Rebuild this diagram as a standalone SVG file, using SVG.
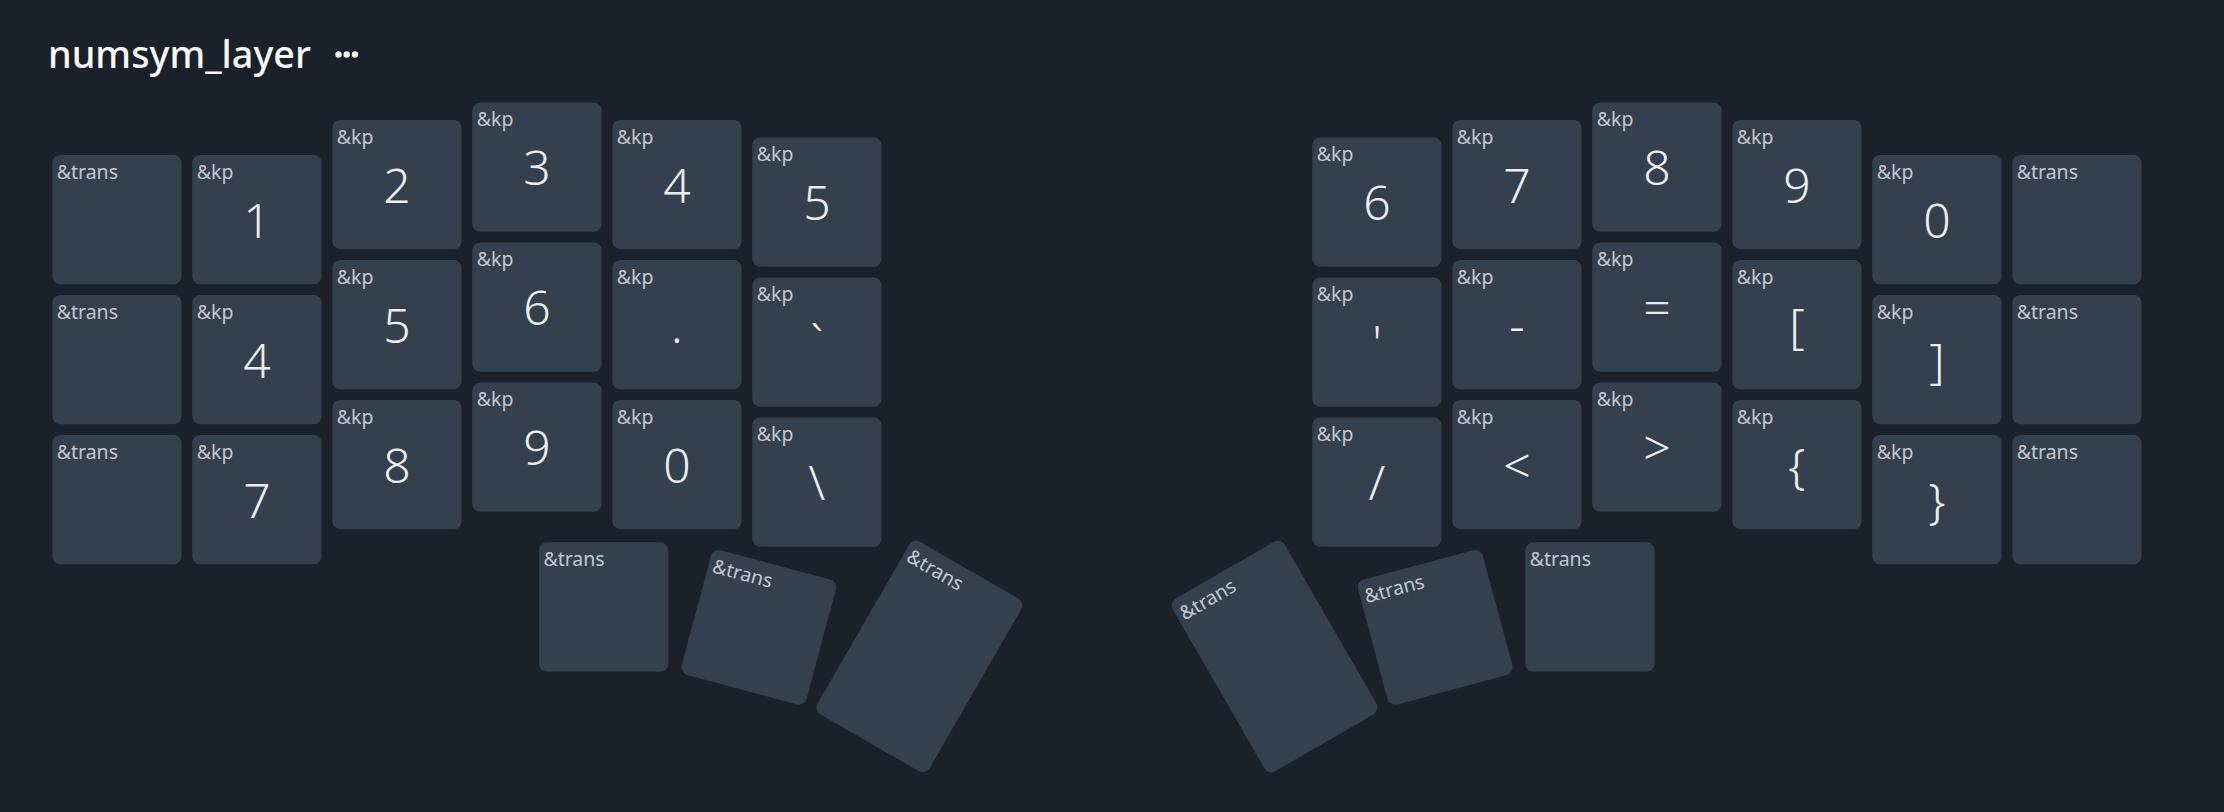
<svg xmlns="http://www.w3.org/2000/svg" width="2224" height="812" viewBox="0 0 2224 812">
<style>
.bg{fill:#1b212a}
.key{fill:#35404f}
.hold{font-family:"Noto Sans","Liberation Sans",sans-serif;font-size:19.5px;fill:#c3c8ce}
.tap{font-family:"Noto Sans","Liberation Sans",sans-serif;font-size:48px;font-weight:300;fill:#eceef0;text-anchor:middle}
.title{font-family:"Noto Sans","Liberation Sans",sans-serif;font-size:38px;font-weight:500;fill:#f7f7f7}
</style>
<defs>
<rect id="kr" class="key" width="129.3" height="129.3" rx="8"/>
</defs>
<rect class="bg" width="2224" height="812"/>
<g id="title">
<text class="title" x="48" y="68" textLength="263" lengthAdjust="spacingAndGlyphs">numsym_layer</text>
<circle cx="338.5" cy="54.5" r="3.2" fill="#f2f2f2"/>
<circle cx="346.7" cy="54.5" r="3.2" fill="#f2f2f2"/>
<circle cx="355" cy="54.5" r="3.2" fill="#f2f2f2"/>
</g>
<g id="left-hand">
<g id="L00" transform="translate(52.3,155)"><use href="#kr"/><text class="hold" x="4.4" y="23.7">&amp;trans</text></g>
<g id="L01" transform="translate(192.3,155)"><use href="#kr"/><text class="hold" x="4.4" y="23.7">&amp;kp</text><text class="tap" x="64.65" y="82.6">1</text></g>
<g id="L02" transform="translate(332.3,120)"><use href="#kr"/><text class="hold" x="4.4" y="23.7">&amp;kp</text><text class="tap" x="64.65" y="82.6">2</text></g>
<g id="L03" transform="translate(472.3,102.5)"><use href="#kr"/><text class="hold" x="4.4" y="23.7">&amp;kp</text><text class="tap" x="64.65" y="82.6">3</text></g>
<g id="L04" transform="translate(612.3,120)"><use href="#kr"/><text class="hold" x="4.4" y="23.7">&amp;kp</text><text class="tap" x="64.65" y="82.6">4</text></g>
<g id="L05" transform="translate(752.3,137.5)"><use href="#kr"/><text class="hold" x="4.4" y="23.7">&amp;kp</text><text class="tap" x="64.65" y="82.6">5</text></g>

<g id="L10" transform="translate(52.3,295)"><use href="#kr"/><text class="hold" x="4.4" y="23.7">&amp;trans</text></g>
<g id="L11" transform="translate(192.3,295)"><use href="#kr"/><text class="hold" x="4.4" y="23.7">&amp;kp</text><text class="tap" x="64.65" y="82.6">4</text></g>
<g id="L12" transform="translate(332.3,260)"><use href="#kr"/><text class="hold" x="4.4" y="23.7">&amp;kp</text><text class="tap" x="64.65" y="82.6">5</text></g>
<g id="L13" transform="translate(472.3,242.5)"><use href="#kr"/><text class="hold" x="4.4" y="23.7">&amp;kp</text><text class="tap" x="64.65" y="82.6">6</text></g>
<g id="L14" transform="translate(612.3,260)"><use href="#kr"/><text class="hold" x="4.4" y="23.7">&amp;kp</text><text class="tap" x="64.65" y="82.6">.</text></g>
<g id="L15" transform="translate(752.3,277.5)"><use href="#kr"/><text class="hold" x="4.4" y="23.7">&amp;kp</text><text class="tap" x="64.65" y="82.6">`</text></g>

<g id="L20" transform="translate(52.3,435)"><use href="#kr"/><text class="hold" x="4.4" y="23.7">&amp;trans</text></g>
<g id="L21" transform="translate(192.3,435)"><use href="#kr"/><text class="hold" x="4.4" y="23.7">&amp;kp</text><text class="tap" x="64.65" y="82.6">7</text></g>
<g id="L22" transform="translate(332.3,400)"><use href="#kr"/><text class="hold" x="4.4" y="23.7">&amp;kp</text><text class="tap" x="64.65" y="82.6">8</text></g>
<g id="L23" transform="translate(472.3,382.5)"><use href="#kr"/><text class="hold" x="4.4" y="23.7">&amp;kp</text><text class="tap" x="64.65" y="82.6">9</text></g>
<g id="L24" transform="translate(612.3,400)"><use href="#kr"/><text class="hold" x="4.4" y="23.7">&amp;kp</text><text class="tap" x="64.65" y="82.6">0</text></g>
<g id="L25" transform="translate(752.3,417.5)"><use href="#kr"/><text class="hold" x="4.4" y="23.7">&amp;kp</text><text class="tap" x="64.65" y="82.6">\</text></g>

<g id="LT1" transform="translate(539,542.3)"><use href="#kr"/><text class="hold" x="4.4" y="23.7">&amp;trans</text></g>
<g id="LT2" transform="translate(758.8,627.3) rotate(15) translate(-64.65,-64.65)"><use href="#kr"/><text class="hold" x="4.4" y="23.7">&amp;trans</text></g>
<g id="LT3" transform="translate(919.4,656.5) rotate(30) translate(-64.65,-99.65)"><rect class="key" width="129.3" height="199.3" rx="8"/><text class="hold" x="4.4" y="23.7">&amp;trans</text></g>
</g>
<g id="right-hand">
<g id="R00" transform="translate(1312.3,137.5)"><use href="#kr"/><text class="hold" x="4.4" y="23.7">&amp;kp</text><text class="tap" x="64.65" y="82.6">6</text></g>
<g id="R01" transform="translate(1452.3,120)"><use href="#kr"/><text class="hold" x="4.4" y="23.7">&amp;kp</text><text class="tap" x="64.65" y="82.6">7</text></g>
<g id="R02" transform="translate(1592.3,102.5)"><use href="#kr"/><text class="hold" x="4.4" y="23.7">&amp;kp</text><text class="tap" x="64.65" y="82.6">8</text></g>
<g id="R03" transform="translate(1732.3,120)"><use href="#kr"/><text class="hold" x="4.4" y="23.7">&amp;kp</text><text class="tap" x="64.65" y="82.6">9</text></g>
<g id="R04" transform="translate(1872.3,155)"><use href="#kr"/><text class="hold" x="4.4" y="23.7">&amp;kp</text><text class="tap" x="64.65" y="82.6">0</text></g>
<g id="R05" transform="translate(2012.3,155)"><use href="#kr"/><text class="hold" x="4.4" y="23.7">&amp;trans</text></g>

<g id="R10" transform="translate(1312.3,277.5)"><use href="#kr"/><text class="hold" x="4.4" y="23.7">&amp;kp</text><text class="tap" x="64.65" y="82.6">'</text></g>
<g id="R11" transform="translate(1452.3,260)"><use href="#kr"/><text class="hold" x="4.4" y="23.7">&amp;kp</text><text class="tap" x="64.65" y="82.6">-</text></g>
<g id="R12" transform="translate(1592.3,242.5)"><use href="#kr"/><text class="hold" x="4.4" y="23.7">&amp;kp</text><text class="tap" x="64.65" y="82.6">=</text></g>
<g id="R13" transform="translate(1732.3,260)"><use href="#kr"/><text class="hold" x="4.4" y="23.7">&amp;kp</text><text class="tap" x="64.65" y="82.6">[</text></g>
<g id="R14" transform="translate(1872.3,295)"><use href="#kr"/><text class="hold" x="4.4" y="23.7">&amp;kp</text><text class="tap" x="64.65" y="82.6">]</text></g>
<g id="R15" transform="translate(2012.3,295)"><use href="#kr"/><text class="hold" x="4.4" y="23.7">&amp;trans</text></g>

<g id="R20" transform="translate(1312.3,417.5)"><use href="#kr"/><text class="hold" x="4.4" y="23.7">&amp;kp</text><text class="tap" x="64.65" y="82.6">/</text></g>
<g id="R21" transform="translate(1452.3,400)"><use href="#kr"/><text class="hold" x="4.4" y="23.7">&amp;kp</text><text class="tap" x="64.65" y="82.6">&lt;</text></g>
<g id="R22" transform="translate(1592.3,382.5)"><use href="#kr"/><text class="hold" x="4.4" y="23.7">&amp;kp</text><text class="tap" x="64.65" y="82.6">&gt;</text></g>
<g id="R23" transform="translate(1732.3,400)"><use href="#kr"/><text class="hold" x="4.4" y="23.7">&amp;kp</text><text class="tap" x="64.65" y="82.6">{</text></g>
<g id="R24" transform="translate(1872.3,435)"><use href="#kr"/><text class="hold" x="4.4" y="23.7">&amp;kp</text><text class="tap" x="64.65" y="82.6">}</text></g>
<g id="R25" transform="translate(2012.3,435)"><use href="#kr"/><text class="hold" x="4.4" y="23.7">&amp;trans</text></g>

<g id="RT1" transform="translate(1525.3,542.3)"><use href="#kr"/><text class="hold" x="4.4" y="23.7">&amp;trans</text></g>
<g id="RT2" transform="translate(1435.2,627.3) rotate(-15) translate(-64.65,-64.65)"><use href="#kr"/><text class="hold" x="4.4" y="23.7">&amp;trans</text></g>
<g id="RT3" transform="translate(1274.6,656.5) rotate(-30) translate(-64.65,-99.65)"><rect class="key" width="129.3" height="199.3" rx="8"/><text class="hold" x="4.4" y="23.7">&amp;trans</text></g>
</g>
</svg>
